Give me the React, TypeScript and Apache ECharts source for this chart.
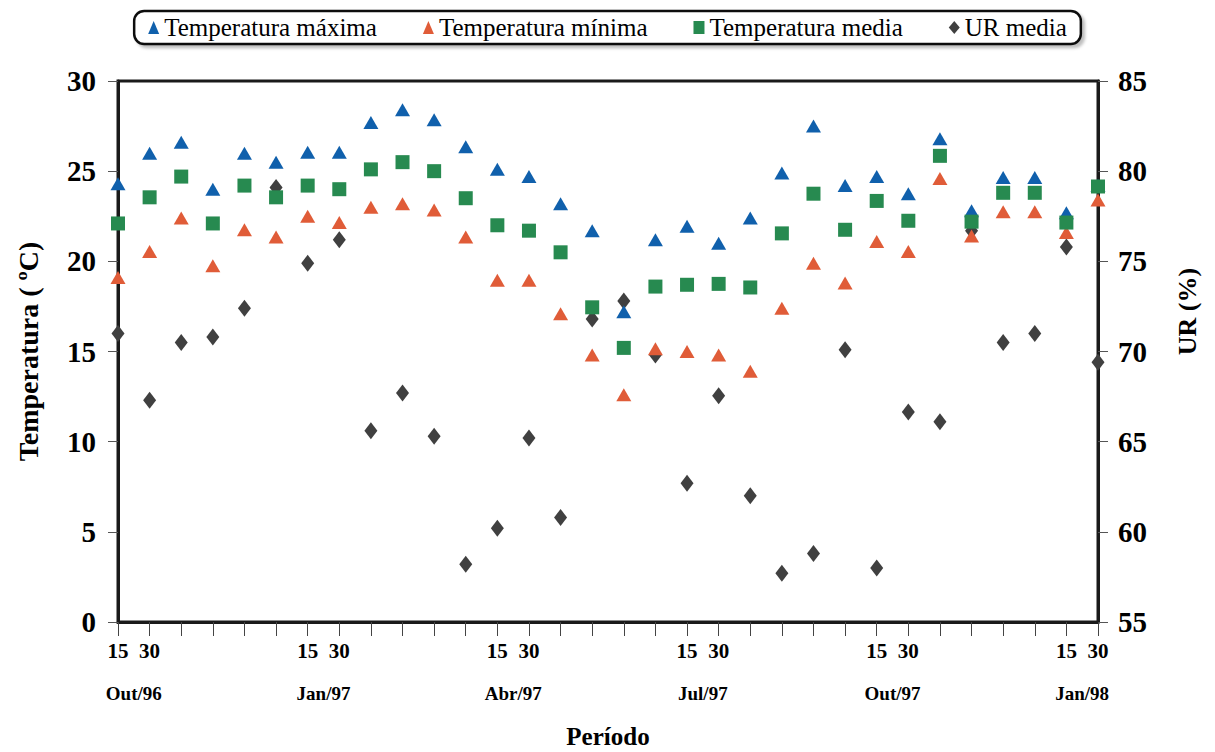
import React, { useEffect, useRef } from "react";
import * as echarts from "echarts";

const categories = [
  "15 Out/96", "30 Out/96", "15 Nov/96", "30 Nov/96", "15 Dez/96", "30 Dez/96",
  "15 Jan/97", "30 Jan/97", "15 Fev/97", "28 Fev/97", "15 Mar/97", "30 Mar/97",
  "15 Abr/97", "30 Abr/97", "15 Mai/97", "30 Mai/97", "15 Jun/97", "30 Jun/97",
  "15 Jul/97", "30 Jul/97", "15 Ago/97", "30 Ago/97", "15 Set/97", "30 Set/97",
  "15 Out/97", "30 Out/97", "15 Nov/97", "30 Nov/97", "15 Dez/97", "30 Dez/97",
  "15 Jan/98", "30 Jan/98",
];

const dayLabels = [
  "15", "30", "", "", "", "", "15", "30", "", "", "", "", "15", "30", "", "",
  "", "", "15", "30", "", "", "", "", "15", "30", "", "", "", "", "15", "30",
];

const monthLabels = [
  "Out/96", "", "", "", "", "", "Jan/97", "", "", "", "", "", "Abr/97", "", "", "",
  "", "", "Jul/97", "", "", "", "", "", "Out/97", "", "", "", "", "", "Jan/98",
];

const tempMax = [
  24.3, 26.0, 26.6, 24.0, 26.0, 25.5, 26.05, 26.05, 27.7, 28.4, 27.85, 26.35,
  25.1, 24.7, 23.2, 21.7, 17.2, 21.2, 21.95, 21.0, 22.4, 24.9, 27.5, 24.2,
  24.7, 23.75, 26.8, 22.8, 24.65, 24.65, 22.7, 24.2,
];

const tempMin = [
  19.1, 20.55, 22.4, 19.75, 21.75, 21.35, 22.5, 22.15, 23.0, 23.2, 22.85, 21.35,
  18.95, 18.95, 17.1, 14.8, 12.6, 15.15, 15.0, 14.8, 13.9, 17.4, 19.9, 18.8,
  21.1, 20.55, 24.6, 21.4, 22.75, 22.75, 21.6, 23.4,
];

const tempMed = [
  22.1, 23.55, 24.7, 22.1, 24.2, 23.55, 24.2, 24.0, 25.1, 25.5, 25.0, 23.5,
  22.0, 21.7, 20.5, 17.45, 15.2, 18.6, 18.7, 18.75, 18.55, 21.55, 23.75, 21.75,
  23.35, 22.25, 25.85, 22.2, 23.8, 23.8, 22.15, 24.15,
];

const urMedia = [
  71.0, 67.3, 70.5, 70.8, 72.4, 79.1, 74.9, 76.2, 65.6, 67.7, 65.3, 58.2,
  60.2, 65.2, 60.8, 71.8, 72.8, 69.8, 62.7, 67.55, 62.0, 57.7, 58.8, 70.1,
  58.0, 66.65, 66.1, 76.7, 70.5, 71.0, 75.8, 69.4,
];

const FONT = "Liberation Serif";
const BLUE = "#1060ac";
const RED = "#e05c38";
const GREEN = "#278a50";
const GREY = "#404040";

export default function App() {
  const ref = useRef<HTMLDivElement>(null);

  useEffect(() => {
    if (!ref.current) return;
    const chart = echarts.init(ref.current, null, { renderer: "svg" });
    const option: any = {
      animation: false,
      backgroundColor: "#ffffff",
      textStyle: { fontFamily: FONT, color: "#000" },
      legend: {
        top: 11,
        left: "center",
        orient: "horizontal",
        borderColor: "#111",
        borderWidth: 2.5,
        borderRadius: 10,
        padding: [4, 14, 4, 14],
        itemGap: 46,
        itemWidth: 11,
        itemHeight: 13,
        shadowColor: "rgba(0,0,0,0.25)",
        shadowOffsetX: 3,
        shadowOffsetY: 3,
        shadowBlur: 3,
        backgroundColor: "#fff",
        textStyle: { fontFamily: FONT, fontSize: 25, color: "#000" },
        data: [
          { name: "Temperatura máxima", icon: "triangle" },
          { name: "Temperatura mínima", icon: "triangle" },
          { name: "Temperatura media", icon: "rect" },
          { name: "UR media", icon: "diamond" },
        ],
      },
      grid: {
        left: 118,
        right: 117,
        top: 81,
        bottom: 130,
        show: true,
        borderColor: "#1a1a1a",
        borderWidth: 3,
        containLabel: false,
        outerBoundsMode: "none",
      },
      xAxis: [
        {
          type: "category",
          data: categories,
          boundaryGap: false,
          position: "bottom",
          name: "Período",
          nameLocation: "middle",
          nameGap: 102,
          nameTextStyle: { fontFamily: FONT, fontSize: 25, fontWeight: "bold", color: "#000" },
          axisLine: { show: true, lineStyle: { color: "#1a1a1a", width: 3 } },
          axisTick: {
            show: true,
            inside: false,
            length: 14,
            interval: 0,
            lineStyle: { color: "#444", width: 1 },
          },
          axisLabel: {
            interval: 0,
            margin: 18,
            fontFamily: FONT,
            fontSize: 21,
            fontWeight: "bold",
            color: "#000",
            formatter: (_v: string, i: number) => dayLabels[i],
          },
          splitLine: { show: false },
        },
        {
          type: "category",
          data: monthLabels.map((m, i) => m || "m" + i),
          boundaryGap: true,
          position: "bottom",
          axisLine: { show: false },
          axisTick: { show: false },
          axisLabel: {
            interval: 0,
            margin: 62,
            fontFamily: FONT,
            fontSize: 19,
            fontWeight: "bold",
            color: "#000",
            formatter: (_v: string, i: number) => monthLabels[i],
          },
          splitLine: { show: false },
        },
      ],
      yAxis: [
        {
          type: "value",
          min: 0,
          max: 30,
          interval: 5,
          position: "left",
          name: "Temperatura ( ºC)",
          nameLocation: "middle",
          nameGap: 76,
          nameTextStyle: { fontFamily: FONT, fontSize: 28, fontWeight: "bold", color: "#000" },
          axisLine: { show: true, lineStyle: { color: "#1a1a1a", width: 3 } },
          axisTick: { show: true, inside: false, length: 10, lineStyle: { color: "#555", width: 1 } },
          axisLabel: { margin: 22, fontFamily: FONT, fontSize: 29, fontWeight: "bold", color: "#000" },
          splitLine: { show: false },
        },
        {
          type: "value",
          min: 55,
          max: 85,
          interval: 5,
          position: "right",
          name: "UR (%)",
          nameLocation: "middle",
          nameGap: 76,
          nameTextStyle: {
            fontFamily: FONT,
            fontSize: 26,
            fontWeight: "bold",
            color: "#000",
            padding: [0, 0, 0, 80],
          },
          axisLine: { show: true, lineStyle: { color: "#1a1a1a", width: 3 } },
          axisTick: { show: true, inside: false, length: 10, lineStyle: { color: "#555", width: 1 } },
          axisLabel: { margin: 20, fontFamily: FONT, fontSize: 29, fontWeight: "bold", color: "#000" },
          splitLine: { show: false },
        },
      ],
      series: [
        {
          name: "UR media",
          type: "scatter",
          xAxisIndex: 0,
          yAxisIndex: 1,
          symbol: "diamond",
          symbolSize: [13, 17],
          itemStyle: { color: GREY, opacity: 1 },
          data: urMedia,
          z: 2,
        },
        {
          name: "Temperatura máxima",
          type: "scatter",
          xAxisIndex: 0,
          yAxisIndex: 0,
          symbol: "triangle",
          symbolSize: [15, 13],
          itemStyle: { color: BLUE, opacity: 1 },
          data: tempMax,
          z: 3,
        },
        {
          name: "Temperatura mínima",
          type: "scatter",
          xAxisIndex: 0,
          yAxisIndex: 0,
          symbol: "triangle",
          symbolSize: [15, 13],
          itemStyle: { color: RED, opacity: 1 },
          data: tempMin,
          z: 4,
        },
        {
          name: "Temperatura media",
          type: "scatter",
          xAxisIndex: 0,
          yAxisIndex: 0,
          symbol: "rect",
          symbolSize: [14, 14],
          itemStyle: { color: GREEN, opacity: 1 },
          data: tempMed,
          z: 5,
        },
      ],
    };
    chart.setOption(option);
    return () => chart.dispose();
  }, []);

  return (
    <div
      ref={ref}
      style={{ position: "fixed", left: 0, top: 0, width: 1215, height: 752, background: "#fff" }}
    />
  );
}
